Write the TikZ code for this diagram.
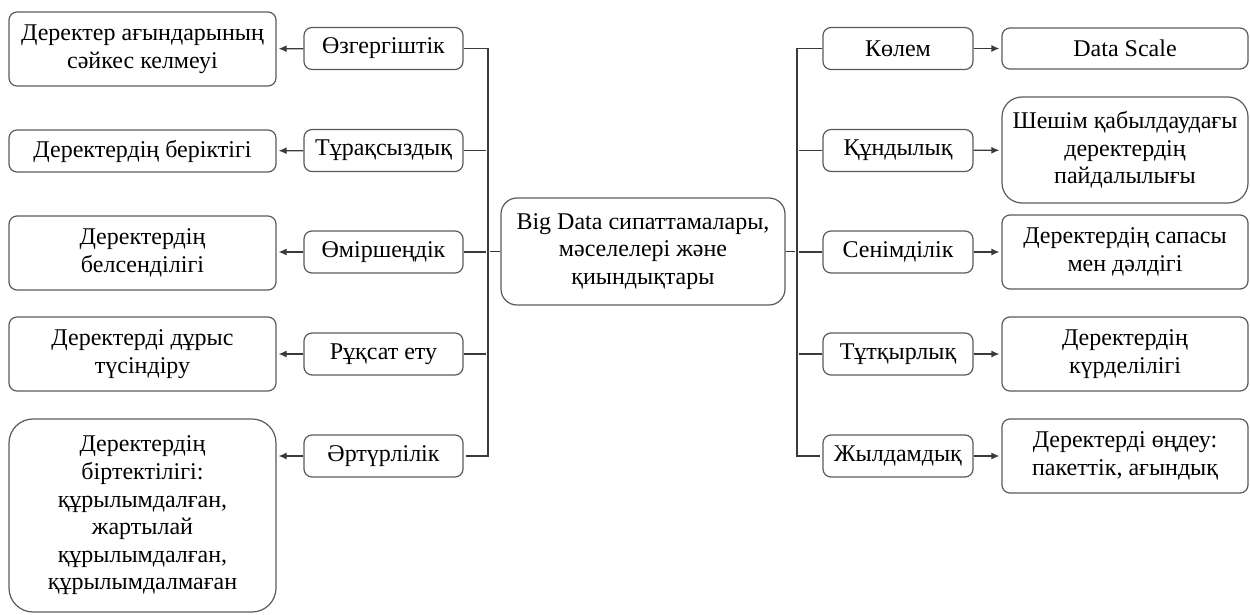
\documentclass[tikz,border=0pt]{standalone}
\usepackage{fontspec}
\setmainfont{Liberation Serif}
\usetikzlibrary{arrows.meta}
\definecolor{boxgray}{HTML}{5A5A5A}
\definecolor{linegray}{HTML}{3A3A3A}

\begin{document}
\begin{tikzpicture}[x=0.5pt,y=-0.5pt,>={Latex[length=4pt,width=3.5pt]},shorten >=1pt,
    font=\fontsize{12}{13.8}\selectfont,
    box/.style={draw=boxgray,line width=0.6pt,rounded corners=4pt,align=center,inner sep=0pt,text=black},
    bigbox/.style={box,minimum width=133.5pt},
    midbox/.style={box,minimum width=79.5pt,minimum height=21pt},
    rmidbox/.style={box,minimum width=75pt,minimum height=21pt},
    rbigbox/.style={box,minimum width=123pt},
    link/.style={draw=linegray,line width=0.6pt}]

    \useasboundingbox (0,0) rectangle (1250,615);

    % centre
    \node[box, minimum width=142pt, minimum height=53.5pt, rounded corners=8pt] (centre) at (643,251.5) {Big Data сипаттамалары,\\ мәселелері және\\ қиындықтары};

    % left side
    \node[midbox] (ozg) at (383.5,48.5) {Өзгергіштік};
    \node[midbox] (tur) at (383.5,150.5) {Тұрақсыздық};
    \node[midbox] (omir) at (383.5,252) {Өміршеңдік};
    \node[midbox] (ruk) at (383.5,354) {Рұқсат ету};
    \node[midbox] (art) at (383.5,456) {Әртүрлілік};

    \node[bigbox, minimum height=37pt] (ozgd) at (142.5,49) {Деректер ағындарының\\ сәйкес келмеуі};
    \node[bigbox, minimum height=21pt] (turd) at (142.5,151) {Деректердің беріктігі};
    \node[bigbox, minimum height=37pt] (omird) at (142.5,253) {Деректердің\\ белсенділігі};
    \node[bigbox, minimum height=37pt] (rukd) at (142.5,354) {Деректерді дұрыс\\ түсіндіру};
    \node[bigbox, minimum height=96.5pt, rounded corners=12pt] (artd) at (142.5,515.5) {Деректердің\\ біртектілігі:\\ құрылымдалған,\\ жартылай\\ құрылымдалған,\\ құрылымдалмаған};

    % right side
    \node[rmidbox] (kol) at (898,48.5) {Көлем};
    \node[rmidbox] (kun) at (898,150.5) {Құндылық};
    \node[rmidbox] (sen) at (898,252) {Сенімділік};
    \node[rmidbox] (tut) at (898,354) {Тұтқырлық};
    \node[rmidbox] (zhyl) at (898,456) {Жылдамдық};

    \node[rbigbox, minimum height=20.5pt] (kold) at (1125,48.5) {Data Scale};
    \node[rbigbox, minimum height=53pt, rounded corners=10pt] (kund) at (1125,150) {Шешім қабылдаудағы\\ деректердің\\ пайдалылығы};
    \node[rbigbox, minimum height=37pt] (send) at (1125,252) {Деректердің сапасы\\ мен дәлдігі};
    \node[rbigbox, minimum height=37pt] (tutd) at (1125,354) {Деректердің\\ күрделілігі};
    \node[rbigbox, minimum height=37pt] (zhyld) at (1125,456) {Деректерді өңдеу:\\ пакеттік, ағындық};

    % buses
    \coordinate (ltop) at (488,48.5);
    \coordinate (lbot) at (488,456);
    \coordinate (rtop) at (797,48.5);
    \coordinate (rbot) at (797,456);

    \draw[link] (ozg.east) -- (ltop) -- (lbot) -- (art.east);
    \draw[link] (tur.east) -- (tur.east -| ltop);
    \draw[link] (omir.east) -- (omir.east -| ltop);
    \draw[link] (ruk.east) -- (ruk.east -| ltop);
    \draw[link] (centre.west) -- (centre.west -| ltop);

    \draw[link] (kol.west) -- (rtop) -- (rbot) -- (zhyl.west);
    \draw[link] (kun.west) -- (kun.west -| rtop);
    \draw[link] (sen.west) -- (sen.west -| rtop);
    \draw[link] (tut.west) -- (tut.west -| rtop);
    \draw[link] (centre.east) -- (centre.east -| rtop);

    \draw[link,->] (ozg) -- (ozgd);
    \draw[link,->] (tur) -- (turd);
    \draw[link,->] (omir) -- (omird.east |- omir);
    \draw[link,->] (ruk) -- (rukd);
    \draw[link,->] (art) -- (artd.east |- art);

    \draw[link,->] (kol) -- (kold);
    \draw[link,->] (kun) -- (kund);
    \draw[link,->] (sen) -- (send);
    \draw[link,->] (tut) -- (tutd);
    \draw[link,->] (zhyl) -- (zhyld);

\end{tikzpicture}
\end{document}
